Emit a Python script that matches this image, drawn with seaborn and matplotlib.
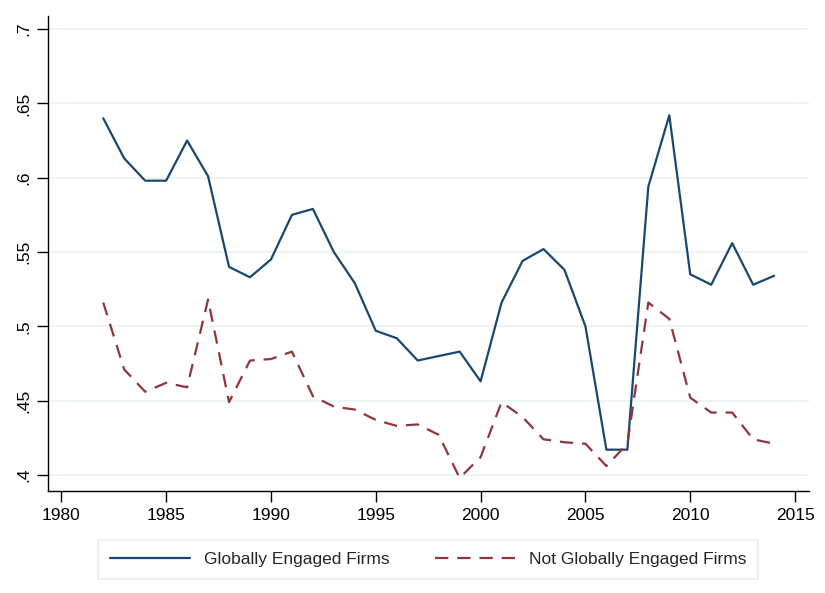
import numpy as np
import pandas as pd
import matplotlib
matplotlib.use("Agg")
import matplotlib.pyplot as plt
import seaborn as sns

years = list(range(1982, 2015))
globally_engaged = [0.640, 0.613, 0.598, 0.598, 0.625, 0.601, 0.540, 0.533, 0.545, 0.575,
                    0.579, 0.550, 0.529, 0.497, 0.492, 0.477, 0.480, 0.483, 0.463, 0.516,
                    0.544, 0.552, 0.538, 0.500, 0.417, 0.417, 0.594, 0.642, 0.535, 0.528,
                    0.556, 0.528, 0.534]
not_globally_engaged = [0.516, 0.471, 0.456, 0.462, 0.459, 0.518, 0.449, 0.477, 0.478, 0.483,
                        0.453, 0.446, 0.444, 0.437, 0.433, 0.434, 0.427, 0.398, 0.412, 0.449,
                        0.439, 0.424, 0.422, 0.421, 0.406, 0.421, 0.516, 0.505, 0.452, 0.442,
                        0.442, 0.424, 0.421]
series_names = ["Globally Engaged Firms", "Not Globally Engaged Firms"]
x_ticks = [1980, 1985, 1990, 1995, 2000, 2005, 2010, 2015]
y_ticks = [0.4, 0.45, 0.5, 0.55, 0.6, 0.65, 0.7]
y_labels = [".4", ".45", ".5", ".55", ".6", ".65", ".7"]

df = pd.concat([
    pd.DataFrame({"year": years, "value": globally_engaged, "group": series_names[0]}),
    pd.DataFrame({"year": years, "value": not_globally_engaged, "group": series_names[1]}),
])

sns.set_theme(style="white")
plt.rcParams['font.family'] = ['Liberation Sans', 'DejaVu Sans']

fig = plt.figure(figsize=(8.25, 5.93), dpi=100)
ax = fig.add_axes([0.0578, 0.1715, 0.9222, 0.802])

palette = {series_names[0]: "#1a476f", series_names[1]: "#90353b"}
dashes = {series_names[0]: "", series_names[1]: (6, 4)}
sns.lineplot(data=df, x="year", y="value", hue="group", style="group",
             palette=palette, dashes=dashes, linewidth=1.6, ax=ax)

ax.set_xlim(1979.35, 2015.64)
ax.set_ylim(0.389, 0.709)
ax.set_xticks(x_ticks)
ax.set_yticks(y_ticks)
ax.set_yticklabels(y_labels, rotation=90, va="center")
ax.set_xlabel("")
ax.set_ylabel("")
ax.tick_params(axis="both", which="major", direction="out", length=8, width=1,
               color="black", labelsize=12.5, labelcolor="black", pad=4,
               left=True, bottom=True)

# horizontal grid, Stata style
ax.yaxis.grid(True, color="#eaf2f3", linewidth=1.2)
ax.xaxis.grid(False)
ax.set_axisbelow(True)

for side in ["top", "right"]:
    ax.spines[side].set_visible(False)
for side in ["left", "bottom"]:
    ax.spines[side].set_color("black")
    ax.spines[side].set_linewidth(1)

handles, labels = ax.get_legend_handles_labels()
ax.get_legend().remove()
leg = fig.legend(handles, labels, loc="center", bbox_to_anchor=(0.519, 0.0565),
                 ncol=2, frameon=True, fancybox=False, fontsize=12.5,
                 handlelength=4.6, handletextpad=0.8, columnspacing=2.6,
                 borderpad=0.7, edgecolor="#e2eaee")
leg.get_frame().set_linewidth(1.2)

fig.savefig("out.png", dpi=100)
